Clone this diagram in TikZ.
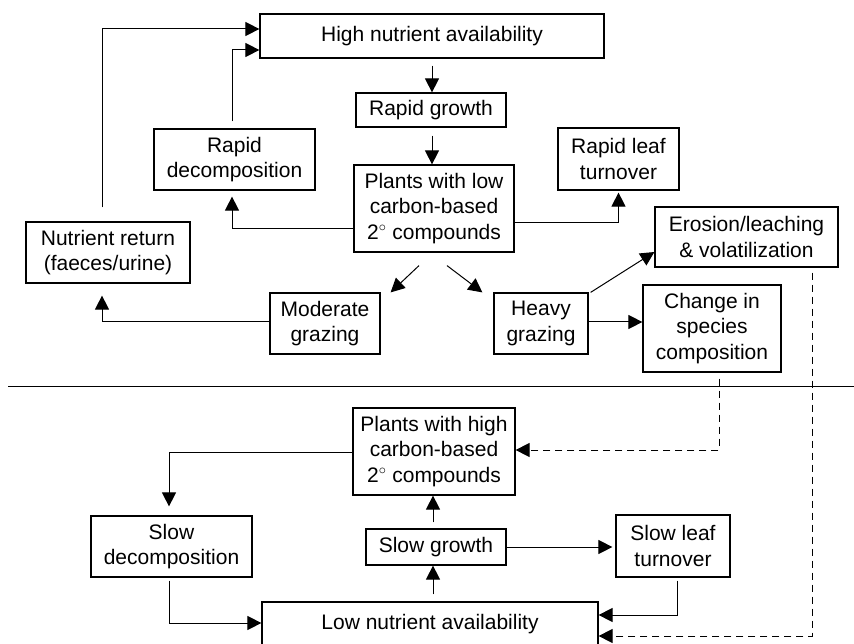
\documentclass[tikz,border=0pt]{standalone}
\usepackage{fontspec}
\setmainfont{Liberation Sans}
\usetikzlibrary{arrows.meta,calc}
\begin{document}
\begin{tikzpicture}[x=1pt,y=-1pt,
  box/.style={draw,line width=1.2pt,inner sep=0pt,align=center,
    font=\fontsize{21}{25.5}\selectfont},
  arr/.style={line width=1pt,-{Triangle[length=14pt,width=14pt]}},
  darr/.style={arr,dash pattern=on 7pt off 5pt}]
\useasboundingbox (0,0) rectangle (854,644);
% upper half
\node[box,minimum width=344,minimum height=44] (high) at (432,36) {High nutrient availability};
\node[box,minimum width=150,minimum height=34] (rg) at (431,110) {Rapid growth};
\node[box,minimum width=160,minimum height=87] (plow) at (434,208.5) {Plants with low\\carbon-based\\2$^{\circ}$ compounds};
\node[box,minimum width=161,minimum height=61] (rdec) at (234.5,159.5) {Rapid\\decomposition};
\node[box,minimum width=121,minimum height=62] (rleaf) at (618.5,159) {Rapid leaf\\turnover};
\node[box,minimum width=164,minimum height=61] (nret) at (108,252.5) {Nutrient return\\(faeces/urine)};
\node[box,minimum width=110,minimum height=61] (mod) at (325,323.5) {Moderate\\grazing};
\node[box,minimum width=94,minimum height=61] (heavy) at (541,323.5) {Heavy\\grazing};
\node[box,minimum width=183,minimum height=60] (eros) at (746.5,237) {Erosion/leaching\\\& volatilization};
\node[box,minimum width=138,minimum height=87] (change) at (712,328.5) {Change in\\species\\composition};
% separator
\draw[line width=1pt] (8,386) -- (854,386);
% lower half
\node[box,minimum width=162,minimum height=87] (phigh) at (434,451.5) {Plants with high\\carbon-based\\2$^{\circ}$ compounds};
\node[box,minimum width=161,minimum height=61] (sdec) at (171.5,546.5) {Slow\\decomposition};
\node[box,minimum width=140,minimum height=36] (sg) at (436,547) {Slow growth};
\node[box,minimum width=114,minimum height=62] (sleaf) at (673,546) {Slow leaf\\turnover};
\node[box,minimum width=336,minimum height=44] (low) at (430,624) {Low nutrient availability};
% connectors upper
\draw[arr] ([yshift=-7pt]high.south) -- (high.south |- rg.north);
\draw[arr] ([yshift=-8pt]high.south |- rg.south) -- (high.south |- plow.north);
\draw[arr] ([xshift=-6pt,yshift=14pt]nret.north) |- ([yshift=7pt]high.west);
\draw[arr] ([xshift=-2.5pt,yshift=7pt]rdec.north) |- ([yshift=-14pt]high.west);
\draw[arr] ([yshift=-20pt]plow.west) -| ([xshift=-2.5pt,yshift=-6pt]rdec.south);
\draw[arr] ([yshift=-14pt]plow.east) -| ([yshift=-2pt]rleaf.south);
\draw[arr] ([xshift=-15pt,yshift=-13pt]plow.south) -- ([xshift=10pt]mod.north east);
\draw[arr] ([xshift=13pt,yshift=-13pt]plow.south) -- ([xshift=-11pt]heavy.north west);
\draw[arr] ([yshift=1.5pt]mod.west) -| ([xshift=-6pt,yshift=-12pt]nret.south);
\draw[arr] ([xshift=2pt]heavy.north east) -- ([yshift=-15pt]eros.west);
\draw[arr] ([yshift=1.5pt]heavy.east) -- ([yshift=1.5pt]heavy.east -| change.west);
% dashed connectors
\draw[darr] ([xshift=7pt,yshift=-6pt]change.south) |- ([yshift=1.5pt]phigh.east);
\draw[darr] ([xshift=65.5pt,yshift=-5pt]eros.south) |- ([yshift=-12pt]low.east);
% connectors lower
\draw[arr] ([yshift=-0.5pt]phigh.west) -| ([xshift=-2.5pt,yshift=9pt]sdec.north);
\draw[arr] ([xshift=-2.5pt,yshift=-3pt]sdec.south) |- ([yshift=1pt]low.west);
\draw[arr] ([xshift=3pt,yshift=7pt]low.north) -- ([xshift=3pt]low.north |- sg.south);
\draw[arr] ([xshift=-3pt,yshift=6pt]sg.north) -- ([xshift=-3pt]sg.north |- phigh.south);
\draw[arr] (sg.east) -- ([xshift=-3pt]sg.east -| sleaf.west);
\draw[arr] ([xshift=4pt,yshift=-3pt]sleaf.south) |- ([yshift=9pt]low.east);
\end{tikzpicture}
\end{document}
